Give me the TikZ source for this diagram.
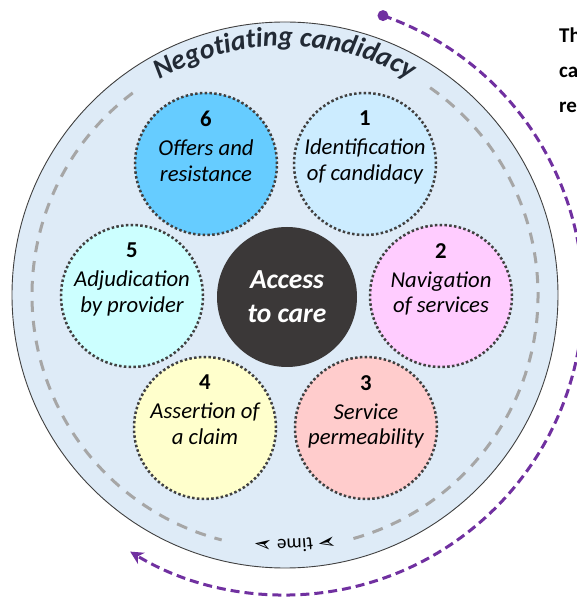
\documentclass[tikz,border=0pt]{standalone}
\usepackage{fontspec}
\setmainfont{Carlito}
\newfontfamily\dejavu{DejaVu Sans}
\usetikzlibrary{arrows.meta,decorations.text}

\definecolor{ringfill}{HTML}{DEEBF7}
\definecolor{ringline}{HTML}{404040}
\definecolor{timegray}{HTML}{A6A6A6}
\definecolor{timepurple}{HTML}{7030A0}
\definecolor{dotgray}{HTML}{404040}
\definecolor{titlenavy}{HTML}{222A35}
\definecolor{carefill}{HTML}{3B3838}
\definecolor{fillone}{HTML}{CCECFF}
\definecolor{filltwo}{HTML}{FFCCFF}
\definecolor{fillthree}{HTML}{FFCCCC}
\definecolor{fillfour}{HTML}{FFFFCC}
\definecolor{fillfive}{HTML}{CCFFFF}
\definecolor{fillsix}{HTML}{66CCFF}

\newcommand{\titlefont}{\fontsize{28}{28}\selectfont\bfseries\itshape}
\newcommand{\timefont}{\fontsize{19}{19}\selectfont\mdseries\upshape}
\newcommand{\tipfont}{\dejavu\fontsize{22}{22}\selectfont}

\begin{document}
\begin{tikzpicture}[x=1pt,y=1pt,
  stage/.style={circle, draw=dotgray, line width=2.5pt,
    dash pattern=on 2.5pt off 2.3pt, minimum size=142pt, inner sep=0pt},
  stagetext/.style={align=center, anchor=north, inner sep=0pt, text=black,
    font=\fontsize{22.7}{25.5}\selectfont\itshape},
  timedash/.style={draw=timegray, line width=3pt, dash pattern=on 11pt off 9pt},
  purpledash/.style={draw=timepurple, line width=3pt, dash pattern=on 9pt off 5pt},
  sidetext/.style={anchor=base west, inner sep=0pt, text=black,
    font=\fontsize{21}{21}\selectfont\bfseries},
]
\useasboundingbox (0,0) rectangle (577,598);
\clip (0,0) rectangle (577,598);

% outer ring
\coordinate (C) at (285,303);
\filldraw[fill=ringfill, draw=ringline, line width=0.9pt] (C) circle (273);

% grey dashed time ring, open at the top and bottom labels
\draw[timedash] (C) ++(55:253) arc[start angle=55, end angle=-74.5, radius=253];
\draw[timedash] (C) ++(127:253) arc[start angle=127, end angle=255.5, radius=253];

% curved labels
\path[decorate, decoration={text along path, text align=center,
    text color=titlenavy, text={|\titlefont|Negotiating candidacy}}]
  (C) ++(150:249) arc[start angle=150, end angle=30, radius=249];
\path[decorate, decoration={text along path, text align=center,
    text color=black, text={|\tipfont|➢|\timefont| time |\tipfont|➢}}]
  (C) ++(-57.7:244) arc[start angle=-57.7, end angle=-117.7, radius=244];

% stages around the centre
\node[stage, fill=fillone]   (s1) at (365,434) {};
\node[stage, fill=filltwo]   (s2) at (441,302) {};
\node[stage, fill=fillthree] (s3) at (366,170) {};
\node[stage, fill=fillfour]  (s4) at (205,170) {};
\node[stage, fill=fillfive]  (s5) at (132,302) {};
\node[stage, fill=fillsix]   (s6) at (206,434) {};

\node[stagetext] (l1) at ([yshift=53pt]s1.center) {{\upshape\bfseries 1}\\[3.5pt]Identification\\of candidacy};
\node[stagetext] (l2) at ([yshift=53pt]s2.center) {{\upshape\bfseries 2}\\[3.5pt]Navigation\\of services};
\node[stagetext] (l3) at ([yshift=53pt]s3.center) {{\upshape\bfseries 3}\\[3.5pt]Service\\permeability};
\node[stagetext] (l4) at ([yshift=53pt]s4.center) {{\upshape\bfseries 4}\\[3.5pt]Assertion of\\a claim};
\node[stagetext] (l5) at ([yshift=53pt]s5.center) {{\upshape\bfseries 5}\\[3.5pt]Adjudication\\by provider};
\node[stagetext] (l6) at ([yshift=53pt]s6.center) {{\upshape\bfseries 6}\\[3.5pt]Offers and\\resistance};

% centre
\node[circle, fill=carefill, minimum size=140pt, inner sep=0pt, align=center,
  text=white, font=\fontsize{27.5}{34}\selectfont\bfseries\itshape]
  (care) at (287,301) {Access\\to care};

% purple time arrow outside the ring
\coordinate (P) at (285,301);
\path (P) ++(70.8:298) coordinate (tstart);
\fill[timepurple] (tstart) circle (5.5);
\draw[purpledash, -{Stealth[length=13pt, width=13pt, inset=4pt]}]
  (tstart) arc[start angle=70.8, end angle=-121.3, radius=298];

% side text running off the right edge
\node[sidetext] (r1) at (559,555) {Th};
\node[sidetext] (r2) at (559,520) {ca};
\node[sidetext] (r3) at (559,485) {re};
\end{tikzpicture}
\end{document}
